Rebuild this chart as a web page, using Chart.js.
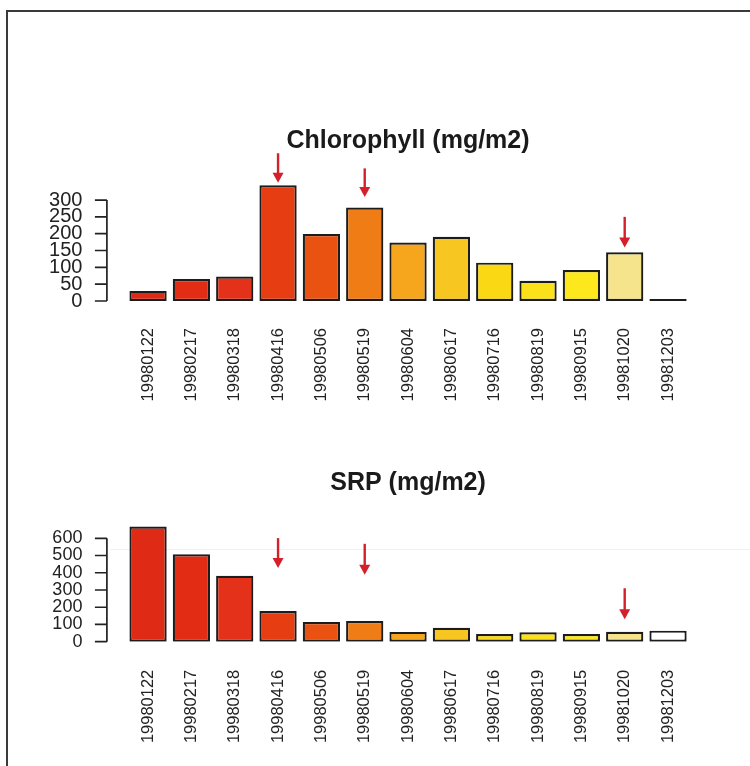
<!DOCTYPE html>
<html>
<head>
<meta charset="utf-8">
<script src="https://cdn.jsdelivr.net/npm/chart.js@4.4.1/dist/chart.umd.min.js"></script>
<style>
  body { margin: 0; background: #fff; width: 750px; height: 766px; overflow: hidden; position: relative; }
  #frame { position: absolute; left: 6px; top: 10px; width: 760px; height: 780px; border-left: 2px solid #3a3a3a; border-top: 2px solid #3a3a3a; }
  #scanline { position: absolute; left: 110px; top: 549px; width: 640px; height: 1px; background: #f1f1f1; }
  canvas { position: absolute; left: 0; }
  #chlChart { top: 0; }
  #srpChart { top: 420px; }
</style>
</head>
<body>
<div id="frame"></div>
<div id="scanline"></div>
<canvas id="chlChart" width="750" height="420"></canvas>
<canvas id="srpChart" width="750" height="346"></canvas>
<script>
const dates = ['19980122', '19980217', '19980318', '19980416', '19980506', '19980519', '19980604',
               '19980617', '19980716', '19980819', '19980915', '19981020', '19981203'];
const chlorophyll = [30, 65, 73, 344, 199, 278, 174, 191, 114, 60, 92, 145, 6];
const srp = [668, 507, 383, 178, 114, 120, 57, 81, 45, 55, 45, 58, 64];

// y tick labels (R style axis stops at the last tick)
const chlTicks = [0, 50, 100, 150, 200, 250, 300];
const srpTicks = [0, 100, 200, 300, 400, 500, 600];

// red arrows: bar index, tail value, tip value
const arrowIdx = [3, 5, 11];
const chlArrowFrom = [439, 394, 250];
const chlArrowTo = [351, 309, 159];
const srpArrowFrom = [601, 568, 310];
const srpArrowTo = [427, 388, 130];

// scanned heat.colors palette
const barColors = ['#df2a16', '#e22c14', '#e4321a', '#e63e12', '#ea5212', '#f07c16', '#f5a61c',
                   '#f8c620', '#fad914', '#fbe11a', '#fce81c', '#f6e48c', '#ffffff'];

const FONT = "'Liberation Sans', Arial, sans-serif";

// draws the R-like y axis and the arrows
const rAxisPlugin = {
    id: 'rAxis',
    afterDraw(chart, args, opts) {
        const { ctx, chartArea } = chart;
        const ys = chart.scales.y;
        const xs = chart.scales.x;
        const x0 = chartArea.left - 19.5;

        ctx.save();
        ctx.strokeStyle = '#222';
        ctx.lineWidth = 1.7;
        ctx.beginPath();
        ctx.moveTo(x0, ys.getPixelForValue(opts.ticks[0]));
        ctx.lineTo(x0, ys.getPixelForValue(opts.ticks[opts.ticks.length - 1]));
        opts.ticks.forEach(v => {
            const py = ys.getPixelForValue(v);
            ctx.moveTo(x0 - 12, py);
            ctx.lineTo(x0, py);
        });
        ctx.stroke();

        ctx.strokeStyle = '#d3202a';
        ctx.fillStyle = '#d3202a';
        ctx.lineWidth = 2.4;
        arrowIdx.forEach((i, k) => {
            const px = xs.getPixelForValue(i);
            const y1 = ys.getPixelForValue(opts.from[k]);
            const y2 = ys.getPixelForValue(opts.to[k]);
            ctx.beginPath();
            ctx.moveTo(px, y1);
            ctx.lineTo(px, y2 - 8);
            ctx.stroke();
            ctx.beginPath();
            ctx.moveTo(px - 5.5, y2 - 10);
            ctx.lineTo(px + 5.5, y2 - 10);
            ctx.lineTo(px, y2);
            ctx.closePath();
            ctx.fill();
        });
        ctx.restore();
    }
};

function makeChart(id, title, values, ticks, ymax, tickFont, from, to, pad, titlePad, xPad) {
    const ctx = document.getElementById(id).getContext('2d');
    return new Chart(ctx, {
        type: 'bar',
        data: {
            labels: dates,
            datasets: [{
                data: values,
                backgroundColor: barColors,
                borderColor: '#1c1c1c',
                borderWidth: 2.2,
                borderSkipped: false,
                categoryPercentage: 1,
                barPercentage: 0.86
            }]
        },
        options: {
            responsive: false,
            animation: false,
            layout: { padding: pad },
            plugins: {
                legend: { display: false },
                tooltip: { enabled: false },
                title: {
                    display: true,
                    text: title,
                    fullSize: false,
                    color: '#1a1a1a',
                    font: { family: FONT, size: 25, weight: 'bold', lineHeight: 1.2 },
                    padding: { top: 0, bottom: titlePad }
                },
                rAxis: { ticks: ticks, from: from, to: to }
            },
            scales: {
                x: {
                    grid: { display: false, drawTicks: false },
                    border: { display: false },
                    ticks: {
                        autoSkip: false, maxRotation: 90, minRotation: 90, padding: xPad,
                        color: '#222', font: { family: FONT, size: 16.5 }
                    },
                    afterFit: s => { s.height = 110; }
                },
                y: {
                    min: 0,
                    max: ymax,
                    grid: { display: false, drawTicks: false },
                    border: { display: false },
                    ticks: {
                        autoSkip: false, padding: 44,
                        color: '#222', font: { family: FONT, size: tickFont }
                    },
                    afterBuildTicks: s => { s.ticks = ticks.map(v => ({ value: v })); },
                    afterFit: s => { s.width = 126.4; }
                }
            }
        },
        plugins: [rAxisPlugin]
    });
}

document.addEventListener('DOMContentLoaded', () => {
    makeChart('chlChart', 'Chlorophyll (mg/m2)', chlorophyll, chlTicks, 350, 20,
        chlArrowFrom, chlArrowTo, { top: 126, left: 0, right: 60.3, bottom: 9 }, 27.2, 27);
    makeChart('srpChart', 'SRP (mg/m2)', srp, srpTicks, 680, 18,
        srpArrowFrom, srpArrowTo, { top: 48, left: 0, right: 60.3, bottom: 14.3 }, 26.5, 28);
});
</script>
</body>
</html>
